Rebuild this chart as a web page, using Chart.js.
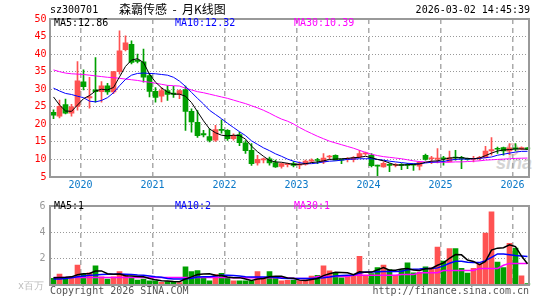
<!DOCTYPE html>
<html>
<head>
<meta charset="utf-8">
<script src="https://cdn.jsdelivr.net/npm/chart.js@4.4.1/dist/chart.umd.min.js"></script>
<style>
  body { margin: 0; width: 545px; height: 300px; background: #fff; position: relative; overflow: hidden;
         font-family: "DejaVu Sans Mono", monospace; font-size: 10px; }
  canvas { position: absolute; left: 0; }
  .t { position: absolute; white-space: pre; line-height: 12px; }
  #wm { left: 496px; top: 153px; font: italic bold 18px "Liberation Sans", Arial, sans-serif; color: #d4d4d4; line-height: 20px; }
  #wmDot { position: absolute; left: 506px; top: 143px; width: 9px; height: 9px; border-radius: 50%; border: 2px solid #ecc8c8; }
</style>
</head>
<body>
<div id="wmDot"></div>
<div class="t" id="wm">sina</div>
<canvas id="kline" width="545" height="195" style="top:0"></canvas>
<canvas id="volume" width="545" height="105" style="top:195px"></canvas>

<div class="t" style="left:50px;top:4px">sz300701</div>
<div class="t" style="left:119px;top:2px;font:12px 'Noto Sans CJK SC';line-height:14px">森霸传感  -  月K线图</div>
<div class="t" style="right:15px;top:4px">2026-03-02 14:45:39</div>
<div class="t" style="left:54px;top:17px;color:#000">MA5:12.86</div>
<div class="t" style="left:175px;top:17px;color:#0000ff">MA10:12.32</div>
<div class="t" style="left:294px;top:17px;color:#ff00ff">MA30:10.39</div>
<div class="t" style="left:54px;top:200px;color:#000">MA5:1</div>
<div class="t" style="left:175px;top:200px;color:#0000ff">MA10:2</div>
<div class="t" style="left:294px;top:200px;color:#ff00ff">MA30:1</div>
<div class="t" style="left:18px;top:280px;color:#bbb">x百万</div>
<div class="t" style="left:50px;top:285px;color:#555">Copyright 2026 SINA.COM</div>
<div class="t" style="right:16px;top:285px;color:#555">http://finance.sina.com.cn</div>

<script>
// monthly candles, Aug 2019 .. Mar 2026
const startYear = 2019, startMonth = 8, monthCount = 80;
const months = [];
for (let k = 0; k < monthCount; k++) {
  const m = startMonth - 1 + k;
  months.push(startYear + Math.floor(m / 12) + '-' + String(m % 12 + 1).padStart(2, '0'));
}
const yearTicks = ['2020', '2021', '2022', '2023', '2024', '2025', '2026'];

const open = [23.4,22.3,25.6,23.2,25.1,32.1,27.5,29.8,29.3,31.0,29.2,35.0,41.3,42.8,38.3,37.8,33.9,29.4,28.0,29.6,
  28.9,28.5,29.9,23.7,20.6,17.4,16.5,15.5,18.5,18.3,15.9,17.1,14.7,12.6,9.0,9.9,10.2,9.1,8.0,8.5,
  8.8,8.4,8.6,9.5,9.9,9.3,10.7,11.2,9.9,10.0,10.0,10.7,11.6,11.2,8.3,7.9,8.5,8.3,8.5,8.4,
  8.6,8.1,11.2,10.2,10.1,10.4,9.4,10.5,10.5,10.3,10.0,10.3,10.5,12.4,13.1,13.4,12.4,13.2,12.9,13.2];
const close = [22.6,25.1,23.2,25.0,32.4,30.7,27.9,29.3,31.0,29.2,35.0,40.9,43.2,37.6,37.9,33.4,29.4,27.7,29.6,28.5,
  28.5,29.6,23.7,20.7,16.8,17.0,15.4,18.5,18.3,15.9,16.8,14.8,12.5,8.8,10.0,10.0,9.0,7.9,8.8,8.8,
  8.3,8.6,9.5,9.8,9.7,10.4,10.9,9.8,9.8,10.2,10.5,11.7,11.7,8.2,8.1,8.9,8.3,8.5,8.3,8.3,
  8.4,9.2,10.0,10.3,10.3,10.2,10.5,10.4,10.3,10.0,10.3,10.6,12.4,12.8,12.9,12.4,13.3,13.0,13.4,13.0];
const high = [24.1,26.9,27.2,25.7,37.9,35.5,33.4,39.0,32.2,31.7,35.1,46.6,45.2,43.8,40.0,41.4,34.5,30.5,30.5,31.0,
  30.8,29.8,30.9,24.4,23.9,18.3,18.7,19.7,21.3,18.5,17.3,17.8,15.4,14.5,11.2,10.4,10.7,9.8,9.0,9.0,
  9.4,9.3,9.8,10.2,10.3,11.7,11.2,11.3,10.0,10.5,10.8,12.6,12.1,11.7,8.4,9.3,8.8,8.8,8.8,8.9,
  8.7,9.4,11.5,10.9,13.1,10.9,12.4,12.6,10.9,10.4,10.9,10.9,13.7,16.2,13.5,13.5,14.5,14.5,13.6,13.4];
const low = [21.6,21.8,23.0,22.3,24.0,29.8,24.6,26.3,26.3,28.5,28.7,34.3,40.9,37.2,37.5,32.0,27.8,26.3,26.4,26.8,
  27.7,27.3,18.3,17.8,16.3,16.4,15.0,15.1,17.5,15.4,15.5,13.9,11.7,8.3,8.4,9.0,8.4,7.7,7.5,7.9,
  7.9,7.4,8.4,9.1,8.8,8.8,10.0,9.8,8.8,9.3,9.3,10.5,11.2,7.9,5.0,7.8,6.5,7.9,7.1,7.4,
  6.9,7.0,9.8,8.8,9.0,8.4,9.3,9.8,7.4,9.8,9.3,9.8,10.4,11.2,11.7,11.2,11.3,12.4,12.8,12.8];

const ma5 = [27.8,25.5,23.8,23.7,25.5,27.3,28.2,29.5,30.0,29.8,30.5,33.5,36.5,38.3,38.7,37.6,34.3,32.0,30.4,29.2,
  28.6,28.6,28.0,26.2,23.6,21.0,18.7,17.6,16.9,16.7,16.9,16.8,15.8,13.8,12.2,10.9,9.7,9.3,9.2,8.9,
  8.6,8.6,8.8,9.1,9.3,9.6,10.0,10.1,10.2,10.3,10.5,10.6,10.9,10.5,10.0,9.6,9.0,8.4,8.4,8.5,
  8.6,8.7,9.2,9.5,9.6,10.0,10.4,10.5,10.5,10.3,10.2,10.4,11.1,11.8,12.4,12.7,12.8,13.0,13.0,12.86];
const ma10 = [30.3,29.5,28.8,28.5,28.0,27.6,26.6,26.4,26.8,27.6,29.0,31.0,32.8,34.0,34.5,34.6,34.5,34.4,34.2,34.0,
  33.4,32.3,30.8,29.1,27.4,25.8,24.0,22.8,21.6,20.3,19.1,17.9,16.8,15.3,14.3,13.3,12.5,11.6,10.9,10.1,
  9.5,9.1,8.8,8.8,9.0,9.3,9.5,9.6,9.8,10.0,10.1,10.2,10.2,10.2,10.0,9.8,9.5,9.3,9.1,8.9,
  8.8,8.8,9.0,9.2,9.3,9.4,9.8,10.0,10.1,10.1,10.2,10.3,10.5,10.7,11.2,11.5,11.8,12.1,12.3,12.32];
const ma30 = [35.5,35.0,34.6,34.4,34.3,34.2,34.0,33.8,33.6,33.4,33.3,33.1,32.9,32.7,32.5,32.2,32.0,31.7,31.4,31.1,
  31.0,30.9,30.3,29.8,29.3,29.0,28.6,28.2,27.8,27.4,26.9,26.4,25.9,25.3,24.7,24.0,23.2,22.3,21.5,20.9,
  20.1,19.1,18.2,17.4,16.6,15.9,15.2,14.7,14.2,13.7,13.2,12.6,12.0,11.5,11.1,10.8,10.6,10.4,10.2,9.9,
  9.6,9.4,9.3,9.2,9.2,9.2,9.2,9.3,9.3,9.4,9.5,9.6,9.8,9.9,10.0,10.1,10.2,10.3,10.35,10.39];

// volume, millions of shares
const vol = [0.5,0.83,0.5,0.55,1.52,0.83,0.93,1.45,0.62,0.45,0.62,1.02,0.81,0.5,0.38,0.45,0.31,0.31,0.21,0.26,
  0.26,0.19,1.38,1.02,1.1,0.5,0.31,0.79,0.88,0.5,0.31,0.31,0.31,0.31,1.02,0.5,1.02,0.5,0.31,0.36,
  0.38,0.31,0.38,0.67,0.74,1.45,1.07,0.93,0.55,0.67,0.67,2.17,0.74,0.86,1.33,1.52,1.17,0.74,1.17,1.69,
  0.93,0.98,1.38,1.33,2.88,1.81,2.76,2.76,1.26,0.9,1.26,1.57,3.95,5.55,1.74,1.33,3.17,2.81,0.69,0.1];
const vma5 = [0.55,0.57,0.58,0.62,0.78,0.85,0.87,1.06,1.07,0.86,0.81,0.83,0.7,0.68,0.65,0.63,0.49,0.39,0.33,0.31,
  0.27,0.25,0.46,0.62,0.79,0.84,0.86,0.74,0.72,0.6,0.56,0.56,0.46,0.35,0.45,0.49,0.63,0.67,0.67,0.54,
  0.51,0.37,0.35,0.42,0.5,0.71,0.86,0.97,0.95,0.93,0.78,1.0,0.96,0.98,1.15,1.32,1.12,1.12,1.21,1.26,
  1.14,1.1,1.23,1.26,1.5,1.68,2.03,2.31,2.29,1.9,1.79,1.55,1.79,2.65,2.8,2.83,3.05,2.92,2.2,1.62];
const vma10 = [0.45,0.45,0.5,0.55,0.62,0.68,0.74,0.76,0.8,0.81,0.82,0.84,0.82,0.8,0.76,0.74,0.68,0.62,0.58,0.5,
  0.46,0.45,0.45,0.52,0.6,0.62,0.63,0.68,0.74,0.74,0.72,0.68,0.62,0.6,0.6,0.6,0.6,0.58,0.52,0.5,
  0.5,0.5,0.5,0.5,0.52,0.55,0.6,0.68,0.72,0.74,0.76,0.9,0.98,0.98,1.0,1.02,1.02,1.02,1.05,1.15,
  1.2,1.22,1.26,1.26,1.3,1.45,1.65,1.8,1.8,1.72,1.7,1.7,1.85,2.1,2.36,2.36,2.3,2.24,2.2,2.17];
const vma30 = [0.57,0.57,0.57,0.57,0.57,0.57,0.57,0.57,0.57,0.57,0.57,0.57,0.57,0.57,0.57,0.57,0.57,0.57,0.57,0.57,
  0.57,0.57,0.57,0.57,0.57,0.57,0.57,0.57,0.57,0.57,0.56,0.56,0.56,0.56,0.56,0.56,0.55,0.55,0.55,0.55,
  0.5,0.5,0.5,0.5,0.64,0.64,0.64,0.64,0.64,0.64,0.74,0.74,0.74,0.74,0.74,0.74,0.74,0.74,0.79,0.79,
  0.79,0.93,0.93,0.93,0.93,1.1,1.1,1.1,1.1,1.1,1.1,1.26,1.26,1.26,1.26,1.5,1.64,1.64,1.64,1.64];

const RED = '#ff5252', GREEN = '#00a000';
const colors = close.map((c, i) => c >= open[i] ? RED : GREEN);
const janIdx = yearTicks.map(y => months.indexOf(y + '-01'));
const monoFont = { family: 'DejaVu Sans Mono', size: 10 };

const frame = {
  id: 'frame',
  afterDatasetsDraw(chart) {
    const a = chart.chartArea, ctx = chart.ctx;
    const x = Math.floor(a.left), y = Math.round(a.top);
    ctx.save();
    ctx.strokeStyle = '#999';
    ctx.lineWidth = 2;
    ctx.strokeRect(x, y, Math.floor(a.right) - 1 - x, Math.round(a.bottom) - y);
    ctx.restore();
  }
};

// linear axis only for the year grid lines / labels (bar defaults would add offset)
function yearAxis(showLabels) {
  return {
    type: 'linear', position: 'bottom', min: -0.5, max: monthCount - 0.5, offset: false,
    afterBuildTicks: s => { s.ticks = janIdx.map(i => ({ value: i - 0.5 })); },
    afterFit: s => { s.height = showLabels ? 18 : 0; },
    ticks: {
      display: showLabels, autoSkip: false, maxRotation: 0, padding: 2,
      color: '#0a78c8', font: monoFont,
      callback: (v, idx) => yearTicks[idx]
    },
    grid: { color: '#aaa', lineWidth: 1.5, drawTicks: false, offset: false },
    border: { display: false, dash: [5, 4] }
  };
}

function maLine(data, color, width) {
  return { type: 'line', data, borderColor: color, borderWidth: width, pointRadius: 0,
           tension: 0, order: 0, xAxisID: 'x', yAxisID: 'y' };
}

const common = {
  responsive: false, animation: false, events: [],
  plugins: { legend: { display: false }, tooltip: { enabled: false } }
};

new Chart(document.getElementById('kline'), {
  type: 'bar',
  data: {
    labels: months,
    datasets: [
      maLine(ma5, '#000', 1),
      maLine(ma10, '#0000ff', 1),
      maLine(ma30, '#ff00ff', 1),
      { data: open.map((o, i) => [o, close[i]]), backgroundColor: colors, barThickness: 5,
        minBarLength: 1, grouped: false, order: 1 },
      { data: low.map((l, i) => [l, high[i]]), backgroundColor: colors, barThickness: 1,
        grouped: false, order: 2 }
    ]
  },
  options: {
    ...common,
    layout: { padding: { left: 0, right: 14.5, top: 19, bottom: 0 } },
    scales: {
      x: { type: 'category', display: false, offset: true },
      yr: yearAxis(true),
      y: {
        min: 5, max: 50,
        afterFit: s => { s.width = 50.5; },
        ticks: { stepSize: 5, color: '#f00', padding: 4, font: monoFont },
        grid: { color: '#999', drawTicks: false },
        border: { display: false, dash: [1, 2] }
      }
    }
  },
  plugins: [frame]
});

new Chart(document.getElementById('volume'), {
  type: 'bar',
  data: {
    labels: months,
    datasets: [
      maLine(vma5, '#000', 1.5),
      maLine(vma10, '#0000ff', 1.5),
      maLine(vma30, '#ff00ff', 1.5),
      { data: vol, backgroundColor: colors, barThickness: 5, grouped: false, order: 1 }
    ]
  },
  options: {
    ...common,
    layout: { padding: { left: 0, right: 14.5, top: 6, bottom: 15 } },
    scales: {
      x: { type: 'category', display: false, offset: true },
      yr: yearAxis(false),
      y: {
        min: 0, max: 6,
        afterFit: s => { s.width = 50.5; },
        ticks: { stepSize: 2, color: '#999', padding: 5, font: monoFont,
                 callback: v => v === 0 ? '' : v },
        grid: { color: '#999', drawTicks: false },
        border: { display: false, dash: [1, 2] }
      }
    }
  },
  plugins: [frame]
});
</script>
</body>
</html>
